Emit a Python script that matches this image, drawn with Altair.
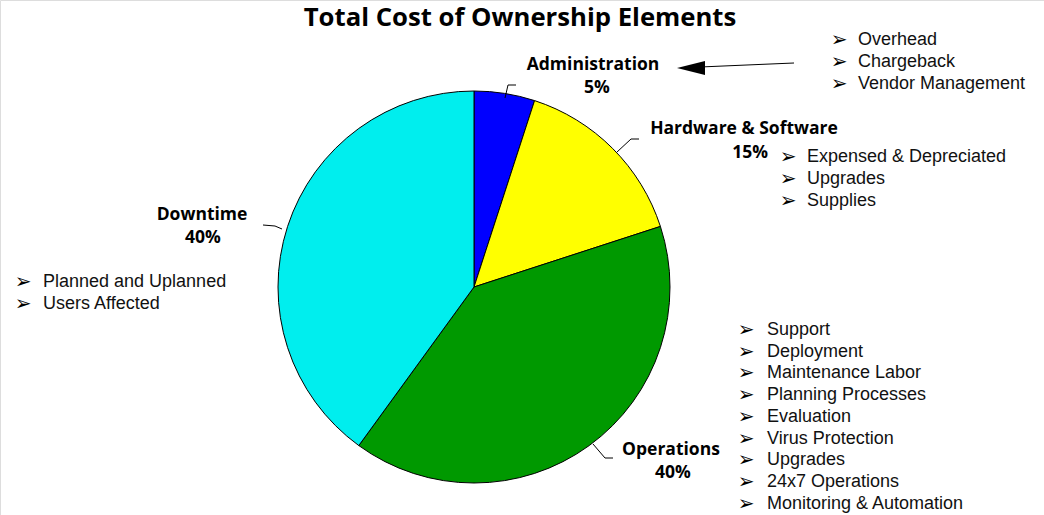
import altair as alt
import pandas as pd

# ---------------- data ----------------
title_text = "Total Cost of Ownership Elements"
categories = ["Administration", "Hardware & Software", "Operations", "Downtime"]
shares = [5, 15, 40, 40]
pct_labels = ["5%", "15%", "40%", "40%"]
colors = ["#0000FF", "#FFFF00", "#009900", "#00EEEE"]

admin_items = ["Overhead", "Chargeback", "Vendor Management"]
hw_items = ["Expensed & Depreciated", "Upgrades", "Supplies"]
ops_items = ["Support", "Deployment", "Maintenance Labor", "Planning Processes",
             "Evaluation", "Virus Protection", "Upgrades", "24x7 Operations",
             "Monitoring & Automation"]
down_items = ["Planned and Uplanned", "Users Affected"]

# ---------------- layout ----------------
W, H = 1044, 515
CX, CY, R = 474, 287, 196
BULLET = "\u27A2"
LABEL_FONT = "Open Sans"
LABEL_SIZE = 17.5

# label anchors: (name x, name y, pct x, pct y, pct align)
label_pos = {
    "Administration": (593, 65, 597, 88, "center"),
    "Hardware & Software": (744, 129, 768, 153, "right"),
    "Operations": (671, 450, 673, 473, "center"),
    "Downtime": (202, 215, 203, 238, "center"),
}
# list anchors: (bullet x, text x, first y, spacing)
list_pos = [
    (admin_items, 839, 858, 40, 21.8),
    (hw_items, 788, 807, 157, 21.8),
    (ops_items, 746, 767, 330, 21.7),
    (down_items, 23, 43, 282, 21.8),
]
leaders = {
    "Administration": [(505, 98), (508, 85), (516, 85)],
    "Hardware & Software": [(617, 152), (631, 139), (639, 139)],
    "Operations": [(593, 444), (605, 458), (613, 458)],
    "Downtime": [(282, 229), (275, 226), (263, 225)],
}
arrow_line = [(794, 63), (700, 67)]
arrow_head = (691, 68)

# ---------------- frames ----------------
pie_df = pd.DataFrame({"cat": categories, "share": shares,
                       "ord": list(range(len(categories)))})

name_rows, pct_c_rows, pct_r_rows = [], [], []
for cat, pct in zip(categories, pct_labels):
    nx, ny, px, py, al = label_pos[cat]
    name_rows.append({"t": cat, "x": nx, "y": ny})
    (pct_r_rows if al == "right" else pct_c_rows).append({"t": pct, "x": px, "y": py})

bul_rows, item_rows = [], []
for items, bx, tx, y0, dy in list_pos:
    for i, it in enumerate(items):
        bul_rows.append({"t": BULLET, "x": bx, "y": y0 + i * dy})
        item_rows.append({"t": it, "x": tx, "y": y0 + i * dy})

lead_rows = []
for cat, pts in leaders.items():
    for i, (x, y) in enumerate(pts):
        lead_rows.append({"g": cat, "i": i, "x": x, "y": y})
for i, (x, y) in enumerate(arrow_line):
    lead_rows.append({"g": "arrow", "i": i, "x": x, "y": y})

X = lambda: alt.X("x:Q", scale=None, axis=None)
Y = lambda: alt.Y("y:Q", scale=None, axis=None)

pie = alt.Chart(pie_df).mark_arc(radius=R, stroke="black", strokeWidth=1).encode(
    theta=alt.Theta("share:Q", stack=True),
    order=alt.Order("ord:Q"),
    color=alt.Color("cat:N", scale=alt.Scale(domain=categories, range=colors), legend=None),
    x=alt.value(CX), y=alt.value(CY),
)

title = alt.Chart(pd.DataFrame({"t": [title_text], "x": [520], "y": [18]})).mark_text(
    font=LABEL_FONT, fontWeight="bold", fontSize=25.7, align="center", baseline="middle", color="black"
).encode(x=X(), y=Y(), text="t:N")

names = alt.Chart(pd.DataFrame(name_rows)).mark_text(
    font=LABEL_FONT, fontWeight="bold", fontSize=LABEL_SIZE, align="center", baseline="middle", color="black"
).encode(x=X(), y=Y(), text="t:N")

pcts_c = alt.Chart(pd.DataFrame(pct_c_rows)).mark_text(
    font=LABEL_FONT, fontWeight="bold", fontSize=LABEL_SIZE, align="center", baseline="middle", color="black"
).encode(x=X(), y=Y(), text="t:N")

pcts_r = alt.Chart(pd.DataFrame(pct_r_rows)).mark_text(
    font=LABEL_FONT, fontWeight="bold", fontSize=LABEL_SIZE, align="right", baseline="middle", color="black"
).encode(x=X(), y=Y(), text="t:N")

bullets = alt.Chart(pd.DataFrame(bul_rows)).mark_text(
    font="DejaVu Sans", fontSize=20, align="center", baseline="middle", color="black"
).encode(x=X(), y=Y(), text="t:N")

items = alt.Chart(pd.DataFrame(item_rows)).mark_text(
    font="Liberation Sans", fontSize=18, align="left", baseline="middle", color="#111111"
).encode(x=X(), y=Y(), text="t:N")

lines = alt.Chart(pd.DataFrame(lead_rows)).mark_line(color="black", strokeWidth=1).encode(
    x=X(), y=Y(), detail="g:N", order="i:Q"
)

head = alt.Chart(pd.DataFrame({"x": [arrow_head[0]], "y": [arrow_head[1]]})).mark_point(
    shape="M -1 0 L 1 -0.5 L 1 0.5 Z", size=784, filled=True, color="black", opacity=1
).encode(x=X(), y=Y())

chart = alt.layer(pie, lines, head, title, names, pcts_c, pcts_r, bullets, items).properties(
    width=W, height=H, padding=0, autosize=alt.AutoSizeParams(type="none")
).configure_view(stroke=None).configure(background="white")

chart.save("out.html", embed_options={"renderer": "svg", "actions": False})
